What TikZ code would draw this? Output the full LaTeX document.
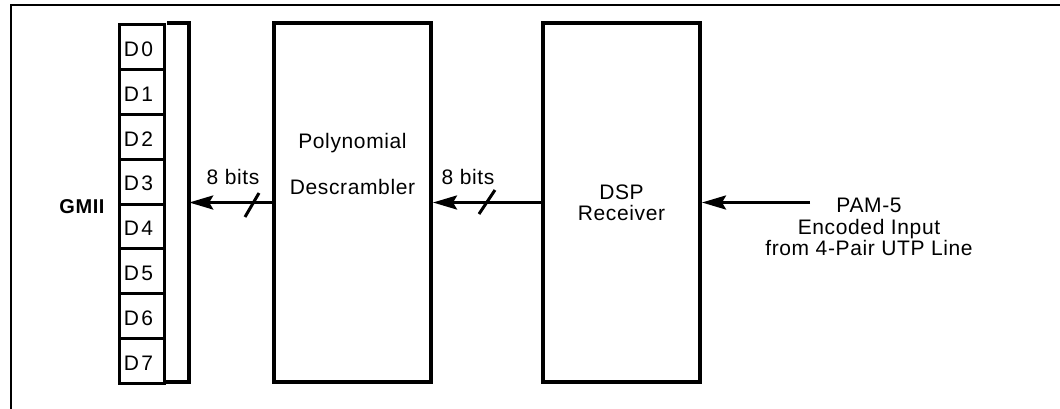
\documentclass[tikz,border=0pt]{standalone}
\usepackage{fontspec}
\setmainfont{Liberation Sans}[LetterSpace=3]
\usetikzlibrary{arrows.meta}
\begin{document}
\begin{tikzpicture}[x=1pt,y=-1pt,
  txt/.style={font=\fontsize{21}{21.5}\selectfont, inner sep=0pt},
  cell/.style={draw, line width=3pt, minimum width=45pt, minimum height=44.875pt, inner sep=0pt, anchor=north west},
  blk/.style={draw, line width=4pt, minimum width=157pt, minimum height=359pt, inner sep=0pt},
  arr/.style={line width=3pt, -{Stealth[length=24pt, width=14pt, inset=4pt]}},
  slash/.style={line width=3pt}]
\useasboundingbox (0,0) rectangle (1060,408);
\clip (0,0) rectangle (1060,408);
\draw[line width=2pt] (11,5) rectangle (1080,425);
% register
\foreach \i in {0,...,7}{
  \node[cell] (d\i) at (118,{23+\i*44.875}) {};
  \node[txt, font=\fontsize{21}{21.5}\selectfont\addfontfeatures{LetterSpace=12}] (dl\i) at ([xshift=-3.5pt,yshift=-2pt]d\i.center) {D\i};
}
\draw[line width=4pt] (167,23) -- (189,23) -- (189,382) -- (163,382);
\node[inner sep=0pt, minimum width=26pt, minimum height=359pt] (brk) at (176,202.5) {};
\node[txt, font=\fontsize{20}{21}\selectfont\bfseries] (gmii) at (82,207) {GMII};
% blocks
\node[blk] (poly) at (352.5,202.5) {};
\node[txt] (polyt1) at (352.5,143) {Polynomial};
\node[txt] (polyt2) at (352.5,187) {Descrambler};
\node[blk] (dsp) at (621.5,202.5) {};
\node[txt, align=center] (dspt) at (621.5,203) {DSP\\Receiver};
% arrows
\draw[arr] (poly.west) -- (brk.east);
\draw[slash] (245,217) -- (259,193);
\node[txt] (b1) at (233,177) {8 bits};
\draw[arr] (dsp.west) -- (poly.east);
\draw[slash] (479,214) -- (495,190);
\node[txt] (b2) at (468,177) {8 bits};
\coordinate (in) at (810,202.5);
\draw[arr] (in) -- (dsp.east);
\node[txt, align=center] (pam) at (869,227) {PAM-5\\Encoded Input\\from 4-Pair UTP Line};
\end{tikzpicture}
\end{document}
